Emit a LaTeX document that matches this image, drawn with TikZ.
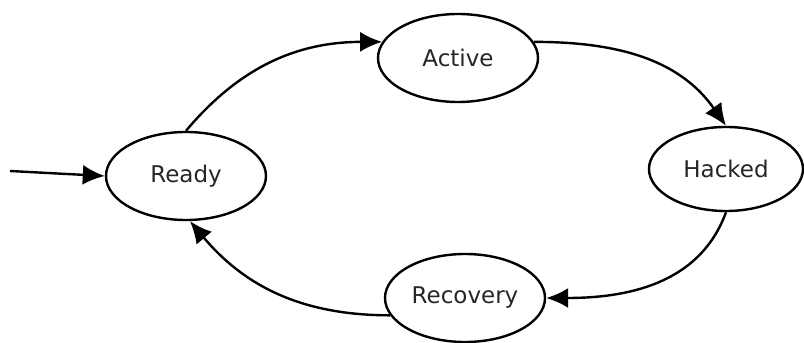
\documentclass[tikz,border=0pt]{standalone}
\usepackage{fontspec}
\setmainfont{DejaVu Sans}
\usetikzlibrary{shapes.geometric,arrows.meta}
\tikzset{
  state/.style={draw, ellipse, line width=1.2pt, minimum width=80pt, minimum height=44pt,
    inner sep=0pt, text=black!85, font=\fontsize{11.5}{13}\selectfont},
  trans/.style={->, line width=1.2pt}
}
\begin{document}
\begin{tikzpicture}[>={Latex[length=11pt,width=10pt]}, x=0.5pt, y=0.5pt]
\useasboundingbox (0,0) rectangle (804,343);
\node[state] (ready) at (186,167){Ready};
\node[state] (active) at (458,285){Active};
\node[state, minimum width=77pt, minimum height=42pt] (hacked) at (726,174){Hacked};
\node[state] (recovery) at (465,45){Recovery};
\coordinate (start) at (10,172);

\draw[trans] (start)--(ready.west);
\draw[trans] (ready.north) to[out=50, in=180] (active.168);
\draw[trans] (active.12) to[out=0, in=125] (hacked.north);
\draw[trans] (hacked.south) to[out=-110, in=0] (recovery.east);
\draw[trans] (recovery.193) to[out=180, in=-50] (ready.-85);

\end{tikzpicture}
\end{document}
